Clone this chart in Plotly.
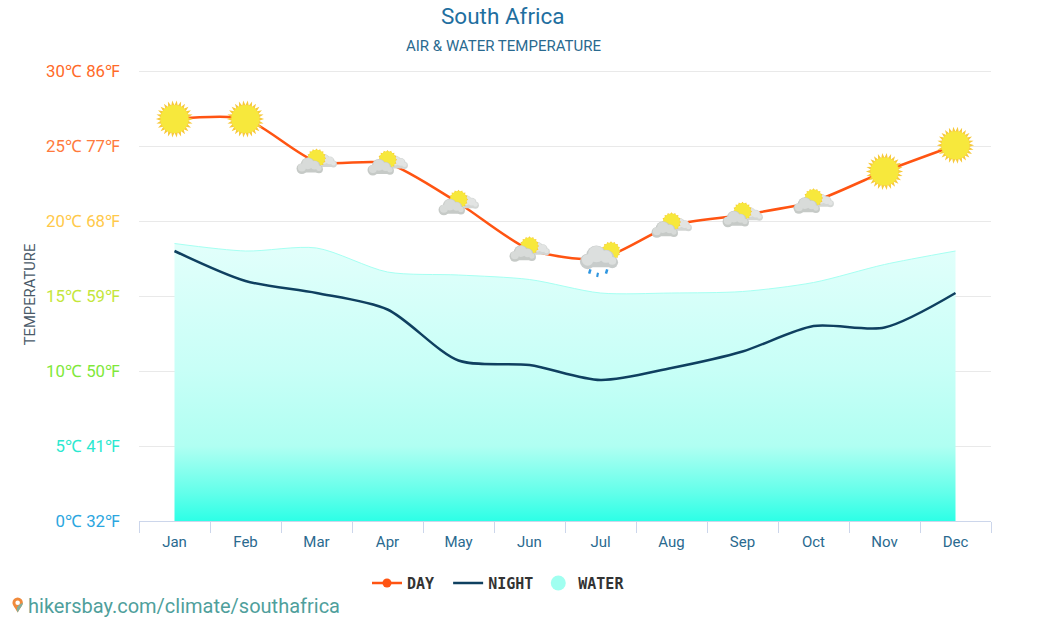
import base64
import math

import plotly.graph_objects as go

months = ["Jan", "Feb", "Mar", "Apr", "May", "Jun", "Jul", "Aug", "Sep", "Oct", "Nov", "Dec"]
day_temp = [26.8, 26.8, 23.95, 23.85, 21.2, 18.1, 17.5, 19.7, 20.4, 21.3, 23.3, 25.05]
night_temp = [18.0, 16.0, 15.2, 14.1, 10.7, 10.4, 9.4, 10.2, 11.3, 13.0, 12.9, 15.2]
water_temp = [18.5, 18.0, 18.2, 16.6, 16.4, 16.1, 15.2, 15.2, 15.3, 15.9, 17.1, 18.0]
weather = ["sun", "sun", "partly", "partly", "partly", "partly", "rain",
           "partly", "partly", "partly", "sun", "sun"]

tick_vals = [0, 5, 10, 15, 20, 25, 30]
tick_names = ["0℃ 32℉", "5℃ 41℉", "10℃ 50℉", "15℃ 59℉", "20℃ 68℉", "25℃ 77℉", "30℃ 86℉"]
tick_colors = ["#2ba6e0", "#2be8d0", "#7fe83a", "#c4e63a", "#ffc94a", "#ff7a3c", "#ff6a28"]
tick_text = [f'<span style="color:{c}">{t}</span>' for t, c in zip(tick_names, tick_colors)]


def svg_uri(body):
    svg = f'<svg xmlns="http://www.w3.org/2000/svg" viewBox="0 0 100 100">{body}</svg>'
    return "data:image/svg+xml;base64," + base64.b64encode(svg.encode()).decode()


def cloud(cx, cy, s, col, top):
    # darker base with a lighter puff on top
    parts = [(-24, 6, 16), (-6, -6, 21), (14, -1, 17), (27, 8, 12)]
    out = "".join(f'<circle cx="{cx + s * a}" cy="{cy + s * b}" r="{s * r}" fill="{col}"/>' for a, b, r in parts)
    out += f'<rect x="{cx - 26 * s}" y="{cy + 4 * s}" width="{54 * s}" height="{14 * s}" rx="{7 * s}" fill="{col}"/>'
    out += "".join(f'<circle cx="{cx + s * a}" cy="{cy + s * (b - 3)}" r="{s * (r - 4)}" fill="{top}"/>' for a, b, r in parts)
    return out


def sun_body(cx, cy, r, n, spike):
    # star polygon behind a plain disc gives the spikes
    pts = []
    for k in range(2 * n):
        rad = r + spike if k % 2 == 0 else r - 1
        ang = math.pi * k / n
        pts.append(f"{cx + rad * math.cos(ang):.1f},{cy + rad * math.sin(ang):.1f}")
    return (f'<polygon points="{" ".join(pts)}" fill="#f7c93c"/>'
            f'<circle cx="{cx}" cy="{cy}" r="{r}" fill="#f7e83c"/>')


icons = {
    "sun": (svg_uri(sun_body(50, 50, 37, 26, 12)), 38),
    "partly": (svg_uri(cloud(71, 50, 0.65, "#d3d6d4", "#e2e4e3") + sun_body(50, 42, 19, 16, 3)
                       + cloud(35, 61, 0.76, "#c6cac7", "#d8dbd9")), 44),
    "rain": (svg_uri(sun_body(75, 32, 20, 16, 3) + cloud(47, 50, 1.15, "#c8cccb", "#dcdfde")
                     + '<path d="M26 76l-3 10M66 76l-3 10" stroke="#2f96e0" stroke-width="6"/>'
                     + '<path d="M44 84l-2 10" stroke="#2f96e0" stroke-width="5"/>'), 42),
}

PIN = svg_uri('<path d="M50 98C30 62 16 50 16 34a34 34 0 0 1 68 0C84 50 70 62 50 98z" fill="#f08a3c"/>'
              '<path d="M50 98C36 66 50 50 84 34C84 50 70 62 50 98z" fill="#7fb0a0"/>'
              '<circle cx="50" cy="34" r="15" fill="#fff"/>')

fig = go.Figure()

fig.add_trace(go.Scatter(
    x=months, y=water_temp, mode="lines", name="WATER", showlegend=False,
    line=dict(color="#a6fff2", width=1, shape="spline", smoothing=0.8),
    fill="tozeroy",
    fillgradient=dict(type="vertical",
                      colorscale=[[0, "#2dffe6"], [0.1, "#62ffea"], [0.27, "#b0fff2"],
                                  [0.55, "#c8fff7"], [1, "#e2fffb"]]),
))
fig.add_trace(go.Scatter(
    x=months, y=day_temp, mode="lines", name="DAY", showlegend=False,
    line=dict(color="#ff5412", width=2.5, shape="spline", smoothing=0.7),
))
# legend entries with a round marker, the drawn lines carry icons instead
fig.add_trace(go.Scatter(
    x=[None], y=[None], mode="lines+markers", name="DAY\u00a0",
    line=dict(color="#ff5412", width=2.5),
    marker=dict(size=9, color="#ff5412"),
))
fig.add_trace(go.Scatter(
    x=months, y=night_temp, mode="lines", name="NIGHT",
    line=dict(color="#0f4060", width=2.5, shape="spline", smoothing=0.8),
))
fig.add_trace(go.Scatter(
    x=[None], y=[None], mode="markers", name="WATER",
    marker=dict(size=15, color="#a0fff0"),
))

images = []
for i, (kind, val) in enumerate(zip(weather, day_temp)):
    src, px = icons[kind]
    images.append(dict(source=src, xref="x", yref="y", x=i, y=val,
                       sizex=px / 71, sizey=px / 15, xanchor="center", yanchor="middle",
                       sizing="contain", layer="above"))
images.append(dict(source=PIN, xref="paper", yref="paper", x=(10 - 139) / 852, y=-0.186,
                   sizex=0.018, sizey=0.044, xanchor="left", yanchor="middle", sizing="contain"))

fig.update_layout(
    width=1046,
    height=628,
    margin=dict(l=139, r=55, t=68, b=107),
    paper_bgcolor="white",
    plot_bgcolor="white",
    font=dict(family="Roboto", color="#2a6a8f"),
    images=images,
    xaxis=dict(
        type="category", categoryorder="array", categoryarray=months,
        range=[-0.5, 11.5], tickson="boundaries", ticks="outside", ticklen=11,
        tickcolor="#ccd6eb", linecolor="#ccd6eb", showline=True, showgrid=False,
        ticklabelstandoff=7,
        tickfont=dict(family="Roboto", size=15, color="#2a6a8f"),
    ),
    yaxis=dict(
        # some headroom so the 30 gridline is not dropped at the edge
        range=[0, 30.2], tickvals=tick_vals, ticktext=tick_text,
        gridcolor="#e9e9e9", gridwidth=1, zeroline=False, ticks="",
        ticklabelstandoff=18,
        tickfont=dict(family="Roboto", size=16.8),
        title=dict(text="TEMPERATURE", font=dict(family="Roboto", size=14.8, color="#4a5a68"), standoff=6),
    ),
    legend=dict(
        orientation="h", x=(367 - 139) / 852, y=-0.1374, xanchor="left", yanchor="middle",
        font=dict(family="DejaVu Sans Mono", size=15, color="#333333", weight="bold"),
        traceorder="normal", itemwidth=30,
    ),
    annotations=[
        dict(text="South Africa", xref="paper", yref="paper", x=(503 - 139) / 852, y=1.148,
             showarrow=False, font=dict(family="Roboto", size=22.5, color="#1f6f9f")),
        dict(text="AIR &amp; WATER TEMPERATURE", xref="paper", yref="paper", x=(503 - 139) / 852, y=1.073,
             showarrow=False, font=dict(family="Roboto", size=15, color="#2a6a8f")),
        dict(text="hikersbay.com/climate/southafrica", xref="paper", yref="paper",
             x=(26 - 139) / 852, y=-0.219, xanchor="left", showarrow=False,
             font=dict(family="Roboto", size=20, color="#4f9f9c")),
    ],
)

fig.write_html("out.html", config=dict(displayModeBar=False),
               post_script="document.body.style.margin='0';")
